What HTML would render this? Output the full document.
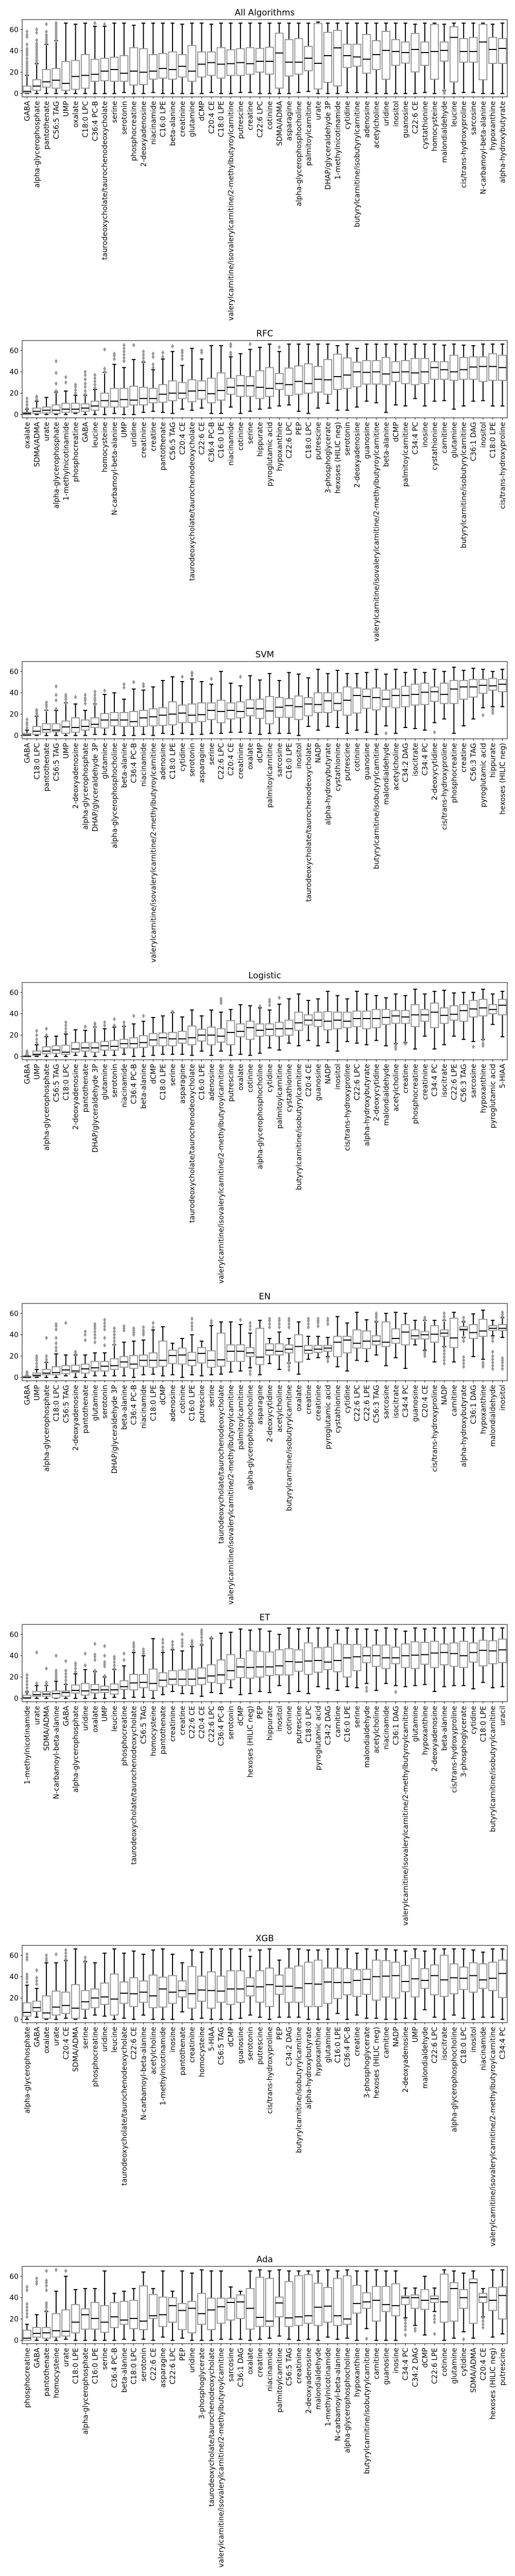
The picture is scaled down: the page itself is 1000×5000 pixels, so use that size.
<!DOCTYPE html>
<html><head><meta charset="utf-8"><title>Feature rank boxplots</title>
<style>
html,body{margin:0;padding:0;background:#fff;}
svg{display:block;font-family:"DejaVu Sans","Liberation Sans",sans-serif;}
</style></head>
<body>
<svg id="chart" width="1000" height="5000" viewBox="0 0 1000 5000" xmlns="http://www.w3.org/2000/svg"></svg>
<script>
const TAU="taurodeoxycholate/taurochenodeoxycholate";
const VAL="valerylcarnitine/isovalerylcarnitine/2-methylbutyroylcarnitine";
const BUT="butyrylcarnitine/isobutyrylcarnitine";
const yTicks=[0,20,40,60];
const titles=["All Algorithms","RFC","SVM","Logistic","EN","ET","XGB","Ada"];

const allNames=["GABA","alpha-glycerophosphate","pantothenate","C56:5 TAG","UMP","oxalate","C18:0 LPC","C36:4 PC-B",TAU,"serine","serotonin","phosphocreatine","2-deoxyadenosine","niacinamide","C16:0 LPE","beta-alanine","creatinine","glutamine","dCMP","C20:4 CE","C18:0 LPE",VAL,"putrescine","creatine","C22:6 LPC","cotinine","SDMA/ADMA","asparagine","alpha-glycerophosphocholine","palmitoylcarnitine","urate","DHAP/glyceraldehyde 3P","1-methylnicotinamide","cytidine",BUT,"adenosine","acetylcholine","uridine","inositol","guanosine","C22:6 CE","cystathionine","homocysteine","malondialdehyde","leucine","cis/trans-hydroxyproline","sarcosine","N-carbamoyl-beta-alanine","hypoxanthine","alpha-hydroxybutyrate"];
const allStats=[[0,0.5,2,7,17],[0,3,7,13,28],[0,6,11,22.5,46],[0,5,12.5,23.5,49.5],[0,3,9.5,30,66],[0,4,16,31,65],[0,5,17,36.5,66],[0,11.5,18,32,63],[0,12,21,33,63],[0,11.5,22.5,34,66],[1,11.5,19,35.5,66],[0,8,21,43,64],[0,8.5,20,42,66],[1,13.5,21,36.5,66],[0,14.5,23.5,37.5,66],[0,13.5,22.5,39,66],[0,15.5,25.5,36.5,65],[0,11.5,21,45,66],[0,15.5,27.5,39,66],[1,17,29,39,65],[0,14.5,27.5,43,66],[0,17,28,41,66],[1,17,29,42,66],[1,18,28,43,66],[0,20.1,30.2,42.3,66],[0,18.2,30.2,43.4,66],[0,5.1,38,56.5,66],[0,16.4,29.4,50.5,66],[1,18.2,29.4,51.5,66],[2,21.4,33.1,44.2,66],[0,4.3,28.3,65.6,67],[0,10.5,35.5,57.3,66],[0,7.2,42.8,59.2,66],[1,24.4,35.5,46.2,66],[1,25.6,34.3,46.2,66],[1,19.1,32.2,55.3,66],[0,22.5,36.5,49.5,66],[0,13.4,40.4,58.2,66],[0,26.4,39.4,50.5,66],[0,28.5,38.4,48.3,66],[0,20.3,41.3,56.3,65],[1,26.4,38.4,48.3,66],[0,13.4,39.4,64.7,66],[3,30.4,40.4,48.3,65],[0,10.9,52.6,62.6,66],[1,29.4,39.4,51.5,66],[1,29.4,39.4,52.6,66],[0,12.9,48.3,64.7,66],[0,28.3,41.3,52.6,65],[0,28.3,42.3,51.5,66]];
const allOut={0:[18,20,22,24,26,28,30,33,36,38,40,42,46,53,55,58],1:[29,31,33,35,37,39,41,43,45,47,50,57,60],2:[47,49,51,53,55,58,65],3:[50,52,54,56,58,60,62,64,66],7:[66],8:[65],43:[0.5,1.5,2.5]};

const rfcNames=["oxalate","SDMA/ADMA","urate","alpha-glycerophosphate","1-methylnicotinamide","phosphocreatine","GABA","leucine","homocysteine","N-carbamoyl-beta-alanine","UMP","uridine","creatinine","creatine","pantothenate","C56:5 TAG","C20:4 CE",TAU,"C22:6 CE","C36:4 PC-B","C16:0 LPE","niacinamide","cotinine","serine","hippurate","pyroglutamic acid","hypoxanthine","C22:6 LPC","PEP","C18:0 LPC","putrescine","3-phosphoglycerate","hexoses (HILIC neg)","serotonin","2-deoxyadenosine","guanosine",VAL,"beta-alanine","dCMP","palmitoylcarnitine","C34:4 PC","inosine","cystathionine","carnitine","glutamine",BUT,"C36:1 DAG","inositol","C18:0 LPE","cis/trans-hydroxyproline"];
const rfcStats=[[0,0,1,2,5],[0,1,3,6,12.5],[0,1.5,4,7,16],[0,1,4,9,21],[0,2,5,10.5,22],[1,2,5,10.5,18],[0,3,6,10,18],[0,4,8,12.5,23.5],[0,7,13,20,39.5],[1,7,12.5,24.5,47],[0,7,14,24.5,44],[0,9,13.5,26.5,51.5],[2,9,15,25.5,49],[3,11,15,24.5,42],[2,11.5,19,28,52],[1,13,20,31.5,59],[5,15,20,30,46],[4,12,22,32.5,62],[6,14.5,22.5,31.5,52],[1,11,19.5,34,64.5],[1,13.5,22.5,39,64.5],[7,19,25.5,34,54],[1,17,27,36.5,57],[3,17,27,35.5,61],[5,15,25.5,41,63],[6,17,24.5,44,66],[8,23.5,29,38.5,59],[9,18,28,43.5,66],[3,19,31,45.5,66],[1,20,29,47.5,66],[6,21,33,45,66],[10.5,19,32.5,51.5,66],[4,23.5,35.5,56.5,64.5],[4,24.5,37,53,66],[7,26,40,49,62],[12.5,28.5,39.5,50.5,66],[11,28.5,40,50.5,66],[2,28,38,53.5,66],[9,31,39.5,49.5,66],[8,29,40,50.5,66],[15,28,39,52.5,66],[8,29,40,52.5,66],[12.5,33,44,49.5,66],[13,33,42,49.5,65],[5,32,40,55.5,66],[8,33,42,53.5,65],[12.5,33,44.5,54,64.5],[13,31,45,54,66],[8,32,45,57,66],[8,32,44,55.5,66]];
const rfcOut={0:[6,9,12,15],1:[14,16,17],3:[22,29,39,50],4:[30,35],5:[20,23,26,28],6:[19,22,26,29,33,37,40],7:[25,28,31,34,37],8:[40,43,61],9:[52,55,57],10:[50,53,56,59,62,65],11:[65],12:[50,53,56,59],13:[44,47,54,57],14:[54,58],15:[64],16:[52,55,58,60],18:[58,60],21:[56,58,64,66],23:[66],26:[63]};

const svmNames=["GABA","C18:0 LPC","pantothenate","C56:5 TAG","UMP","2-deoxyadenosine","alpha-glycerophosphate","DHAP/glyceraldehyde 3P","glutamine","alpha-glycerophosphocholine","beta-alanine","C36:4 PC-B","niacinamide",VAL,"adenosine","C18:0 LPE","cytidine","serotonin","asparagine","serine","C22:6 LPC","C20:4 CE","creatinine","oxalate","dCMP","palmitoylcarnitine","sarcosine","C16:0 LPE","inositol",TAU,"NADP","alpha-hydroxybutyrate","cystathionine","putrescine","cotinine","guanosine",BUT,"malondialdehyde","acetylcholine","C34:2 DAG","isocitrate","C34:4 PC","2-deoxycytidine","cis/trans-hydroxyproline","phosphocreatine","creatine","C56:3 TAG","pyroglutamic acid","hippurate","hexoses (HILIC neg)"];
const svmStats=[[0,0,0.5,2,5],[0,1,4,8.5,18],[0,3,5.5,11,23.5],[0,3.5,5,11,23.5],[0,2,8,13.5,30.5],[0,3,7.5,16.5,29.5],[0,5,8.5,14.5,23.5],[1,7.5,10.5,16.5,29.5],[1,7,14.5,20.5,38.5],[1,9,14.5,21.5,40],[0,8.5,14.5,21.5,34],[0,8.5,13,22.5,43.5],[1,8.5,16.5,23.5,42.5],[0,9,17.5,25,45.5],[2,9.5,19,26,51.5],[1,10,20,31.5,55],[2,12,21,28.5,50.5],[1,12,19,29.5,53],[1,13,19.5,30.5,50.5],[2,15,23.5,30.5,48],[2,12,22.5,33,60],[3,15.5,23.5,30.5,49],[3,16.5,22.5,31.5,46.5],[2,18.5,25.5,33.5,56],[1,16,25,34,52],[2,11,23,36.5,58],[2,17,26.5,35.5,51.5],[2,17,28,34.5,59],[0,15,27,37,57.5],[8.5,18.5,29.5,35.5,54],[5,21.5,29,40,62],[8.5,21.5,32.5,40,58],[7.5,23.5,30,40,61],[2,19,33,45.5,58],[5,21,37.5,44.5,58],[3,25.5,36.5,43.5,59],[1,24,35.5,44.5,62],[9,27,34,42.5,57.5],[2,26,37.5,43.5,62],[7.5,27,37.5,46,59],[6.5,28.5,38.5,48,62],[5,29,40.5,49,59],[12,32,41,45.5,62],[15.5,30,38.5,49,60],[2,30,43.5,51.5,64],[9,34,45.5,51.5,61],[15.5,36,45.5,52.5,63],[26,39.5,47,52.5,62],[27,42.5,46.5,53.5,60],[27,41,48,52.5,62]];
const svmOut={0:[7,10,12,15],1:[19,21,23,24],2:[24,27,29,31],3:[25,33,38,46],4:[31,34,36,38],5:[36],6:[30,33,35,38],7:[30,33,35,38,41],8:[42],10:[45,48],11:[50],12:[46,48],16:[55],17:[56,58,59],19:[53],22:[55],37:[2],42:[3],47:[19],48:[21,23,25]};

const logNames=["GABA","UMP","alpha-glycerophosphate","C56:5 TAG","C18:0 LPC","2-deoxyadenosine","pantothenate","DHAP/glyceraldehyde 3P","glutamine","serotonin","niacinamide","C36:4 PC-B","beta-alanine","dCMP","C18:0 LPE","serine","asparagine",TAU,"C16:0 LPE","adenosine",VAL,"putrescine","oxalate","cotinine","alpha-glycerophosphocholine","cytidine","palmitoylcarnitine","cystathionine",BUT,"C20:4 CE","guanosine","NADP","inositol","cis/trans-hydroxyproline","C22:6 LPC","alpha-hydroxybutyrate","2-deoxycytidine","malondialdehyde","acetylcholine","creatine","phosphocreatine","creatinine","C34:4 PC","isocitrate","C22:6 LPE","C56:3 TAG","sarcosine","hypoxanthine","pyroglutamic acid","5-HIAA"];
const logStats=[[0,0,0,0.5,1],[0,1,2,5,11],[0,2.5,5,9,18.5],[0,3,6,10,19],[0,2,4,10.5,21],[1,4,7,13,25],[0,5,8,13,24.5],[0,4,8,13,27.5],[1,6,10,14,26],[1,6,9.5,15,27.5],[2,8,12,16,28],[0,8,12,17.5,30.5],[0,8.5,13,19.5,33],[1,10,15.5,21.5,36.5],[2,10,17.5,22,38],[2,10,16.5,22.5,41],[2,12.5,16.5,23.5,37],[1,11,17.5,28.5,43.5],[5,14.5,20,25.5,38],[1,11,20,27.5,43.5],[5,13.5,19,26,41.5],[1,11,22.5,33.5,44],[2,18.5,23.5,30.5,48.5],[1,16,27,33,47.5],[3,19,24.5,30.5,45.5],[8,19.5,25.5,30.5,43.5],[6,19,26,32,49],[12.5,20,26,34,54],[10,24.5,31.5,41.5,58.5],[15,29.5,34,39,52.5],[10,28,34,41.5,54],[13,25,33,42,61],[5,26,34,41.5,57],[14,27,33,41.5,54],[12.5,28,35.5,42.5,61],[11,26,35.5,42.5,58.5],[15,27,35.5,44,57],[10,30,36.5,44,55],[12,31,38,43,58.5],[13,31,37,43,57],[7,28,39,48.5,63],[19,33,39,44,58.5],[7,27,41.5,50,61],[11,31,38.5,45.5,62],[19,34,39.5,47.5,59.5],[16,33,43,48.5,60],[14,37,44.5,52.5,60],[16,38,45.5,53.5,63],[30,40,44,48.5,58.5],[18.5,39,48,53.5,61]];
const logOut={0:[2,3,4,5],1:[13,16,20,24],2:[20,26],4:[23,26,29,32],6:[28],7:[28,30,31],8:[29,32],9:[29,35],10:[29,32],11:[38],12:[38],15:[42],20:[50,52,54],24:[47],25:[48,51,53],26:[55],38:[7,9,11],39:[12],46:[9],47:[10,12,15]};

const enNames=["GABA","UMP","alpha-glycerophosphate","C18:0 LPC","C56:5 TAG","2-deoxyadenosine","pantothenate","glutamine","serotonin","DHAP/glyceraldehyde 3P","beta-alanine","C36:4 PC-B","niacinamide","C18:0 LPE","dCMP","adenosine","cotinine","C16:0 LPE","putrescine","serine",TAU,VAL,"palmitoylcarnitine","alpha-glycerophosphocholine","asparagine","2-deoxycytidine","acetylcholine",BUT,"oxalate","creatine","creatinine","pyroglutamic acid","cystathionine","cytidine","C22:6 LPC","C22:6 LPE","C56:3 TAG","sarcosine","isocitrate","C34:4 PC","guanosine","C20:4 CE","cis/trans-hydroxyproline","NADP","carnitine","alpha-hydroxybutyrate","C36:1 DAG","hypoxanthine","malondialdehyde","inositol"];
const enStats=[[0,0,0,1,1.5],[0,1,2,4,7.5],[0,2.5,4,7.5,14],[0,2.5,4.5,10,22],[1.5,3.5,7,11,21],[0,4.5,6,11.5,21],[0,4,8,12.5,21],[1.5,6,9,15,23],[1.5,6,10.5,15,23],[1.5,7.5,11,17.5,30.5],[1.5,9.5,14.5,19.5,33],[0,8.5,12.5,20.5,34],[2.5,10.5,16,21,35],[3,9.5,16,23,44.5],[1.5,10.5,16,34,47.5],[2.5,13,20.5,25.5,32],[0,12.5,21,27.5,36.5],[2.5,11,16,23.5,40],[1.5,13.5,22.5,28,34],[2.5,9.5,16,25,48.5],[3,10.5,16.5,41.5,52],[5,15,24.5,30.5,52],[6,15,24.5,30.5,49.5],[9,19.5,23,28,41.5],[2.5,12,19,46,53.5],[13,21,25.5,31.5,36.5],[7.5,21,24.5,31.5,42.5],[13.5,23,26.5,30.5,36.5],[3,14.5,29,40,52],[17,22.5,25.5,30,38.5],[18.5,23.5,26.5,30,38.5],[19.5,24.5,27.5,30,37.5],[10,19.5,33,38.5,57],[6,23,35,38.5,51],[16,27.5,32,44.5,61],[15,27,34,43.5,54],[21,30.5,34,39,52],[11,29,33,52,60],[18.5,32,36.5,45.5,61],[8.5,30.5,42.5,49.5,60],[30.5,36,39,44.5,53.5],[25.5,36,40,43,53.5],[14.5,33,40.5,48.5,53.5],[29,38.5,41.5,44.5,53.5],[14.5,28,37,55.5,61],[37.5,44,45,47.5,52],[19.5,36.5,42,49.5,59.5],[17,38.5,43.5,54.5,63],[39,44,46,48.5,53.5],[37.5,44,46,49.5,56]];
const enOut={0:[2,3,4,5],1:[10,13,16,18,20],2:[15,17,20,37],3:[25,28,32,37,45,48,50],4:[51],5:[22,24],6:[35,40,43],7:[33,37,40,43,46,48,50],8:[30,37,45,48,51,54],9:[31,34,37,40,43,46],10:[44,46,48],11:[40,42,44,46],12:[40,42,44,47],13:[47,51],17:[45,48,51,55],19:[51,53],22:[54],23:[3,6,45,48,51],25:[47,50,53,55],26:[47,50,53,55],27:[7,10,13,47,50,53,55],29:[47,50,53,55],30:[48,51,53,55],31:[15,18,50,53,55],36:[53,56,58,60],41:[20,22,24,54,56],43:[13,16,19,22,25,28,54,57,60],45:[10,13,16,19,34,37,53,56],47:[10,12,14],48:[8,11,14,17,20,24,34,37],49:[8,11,14,16,18,57,59,61]};

const etNames=["1-methylnicotinamide","urate","SDMA/ADMA","N-carbamoyl-beta-alanine","GABA","alpha-glycerophosphate","uridine","oxalate","UMP","leucine","phosphocreatine",TAU,"C56:5 TAG","homocysteine","pantothenate","creatinine","creatine","C22:6 CE","C20:4 CE","C22:6 LPC","C36:4 PC-B","serotonin","dCMP","hexoses (HILIC neg)","PEP","hippurate","inositol","cotinine","putrescine","C18:0 LPC","pyroglutamic acid","C34:2 DAG","carnitine","C16:0 LPE","serine","malondialdehyde","acetylcholine","niacinamide","C36:1 DAG",VAL,"glutamine","hypoxanthine","2-deoxyadenosine","beta-alanine","cis/trans-hydroxyproline","3-phosphoglycerate","cytidine","C18:0 LPE",BUT,"uracil"];
const etStats=[[0,0,0.5,3,6],[0,2,3.5,6.5,12],[0,2,4,6.5,12],[0,0.5,4.5,7,16],[0,2,5.5,7,13],[0,5,7.5,12.5,23],[0,3,7,14,27],[0,5,8,13,25],[0,5.5,8,11.5,20],[1,4,8,13.5,27],[0,8.5,11,16.5,30.5],[1,8,14.5,22.5,43],[1,10,15,22.5,40],[0,7.5,14,27.5,56],[3.5,11,17,24,43],[6.5,13,18,26,45.5],[4.5,12,18,26.5,44.5],[4.5,12,18,27.5,48.5],[2,13,19,28.5,50],[5.5,15,21,31.5,56],[4.5,14,22,36,61],[10,17.5,26,41,62],[3.5,19.5,29.5,37.5,65],[4.5,19,29,44.5,64],[6.5,20,29.5,44,65],[5.5,21.5,29.5,43.5,63],[12,22,30.5,45.5,60],[4.5,22,34.5,46.5,66],[6.5,25.5,34,45.5,65],[4.5,22.5,35,52,66],[11,24.5,35.5,47.5,66],[9,27,34,48,66],[7.5,25,35.5,51,64],[11,20,38,50.5,66],[10,26,39,50.5,65],[14,33.5,40,48,65],[7.5,30,40,50,64],[14,28,38,50,66],[12,32.5,38,48,65],[11,29,40,51,63],[12,28,40.5,53,66],[13,32,41,52.5,65],[6.5,29,42.5,53.5,66],[11,31.5,43,51,66],[12,30,42,52,66],[12,29,40,53.5,66],[9,34,43,52,66],[15,30.5,45,54.5,66],[10,32.5,44.5,54,66],[11,33.5,45.5,55.5,66]];
const etOut={0:[7,10,13,16,19,22],1:[14,43],2:[13,15,28],3:[18,20,22,24,26,40],4:[14,17,20,23,26,35],5:[25,28,31,33],6:[31,42],7:[26,36,39,41,51],8:[21,30,32,34,40,49],9:[28,31,34,37,39],10:[36,42],11:[45,48,50,52],12:[42,44,46],14:[45,48,52,55],15:[47,50,53],16:[49,52,55,60],17:[50,52,54],18:[51,54,57,60,62,64],19:[57],35:[7,10],38:[6]};

const xgbNames=["alpha-glycerophosphate","GABA","oxalate","urate","C20:4 CE","SDMA/ADMA","serine","phosphocreatine","uridine","leucine",TAU,"C22:6 CE","N-carbamoyl-beta-alanine","acetylcholine","1-methylnicotinamide","inosine","pantothenate","creatinine","homocysteine","5-HIAA","C56:5 TAG","dCMP","guanosine","serotonin","putrescine","cis/trans-hydroxyproline","PEP","C34:2 DAG",BUT,"alpha-hydroxybutyrate","hypoxanthine","glutamine","C16:0 LPE","C36:4 PC-B","creatine","3-phosphoglycerate","hexoses (HILIC neg)","carnitine","NADP","2-deoxyadenosine","UMP","malondialdehyde","C22:6 LPC","isocitrate","alpha-glycerophosphocholine","C18:0 LPC","inositol","niacinamide",VAL,"C34:4 PC"];
const xgbStats=[[0,3,6.5,15.5,32],[2,7.5,11,17,29],[0,1,6,22,53],[0,4,11.5,26.5,53],[1,5.5,13,25.5,55],[0,1,10.5,32.5,66],[1,9.5,16.5,27,54],[4,11,20,28.5,53],[3,14,21,34,62],[0,4,19,42.5,66],[1,15,24.5,35,62],[0,12,24,39,64],[4,16,25.5,36,61],[0,11,22,41.5,65],[0,11.5,28.5,39.5,66],[0,15,25.5,41,61],[7,21,27,36,53],[0,10.5,24,49.5,65],[1,17,27.5,40.5,63],[0,10.5,27,44.5,66],[0,16,26.5,40.5,66],[0,14,28.5,45.5,66],[1,16,28.5,45.5,66],[4,22,31,39,59],[2,16,30.5,45.5,65],[0,12,32.5,48,66],[2,23.5,31,41.5,55.5],[2,16,31,48,66],[2,16,29.5,50,66],[0,12,33.5,53.5,65],[0,12,33,55.5,65],[0,15,35,48,66],[5.5,19.5,34.5,48,66],[0,23,34.5,47.5,66],[4,21.5,36.5,46.5,62],[1,23.5,37.5,47,66],[1,18,40,55.5,65],[0,21,40.5,55,66],[0,20,41,53.5,65],[1,26,35.5,50.5,64],[0,21,38,57,66],[9,29,36.5,47.5,64],[2,23,41,51,66],[0,21.5,37,60,66],[4,24,39,52,66],[1,28,38.5,49,66],[0,25.5,41,53,65],[2,29,37,52,63],[2,27,38.5,53.5,66],[0,20.5,43,55.5,66]];
const xgbOut={0:[35,38,40,42,56,58,61],1:[33,36,39,46],2:[55,57,60],3:[61],4:[56,59,62,65],6:[55,58],23:[65]};

const adaNames=["phosphocreatine","GABA","pantothenate","homocysteine","urate","C18:0 LPE","alpha-glycerophosphate","C16:0 LPE","serine","C36:4 PC-B","beta-alanine","C18:0 LPC","serotonin","C22:6 CE","asparagine","C22:6 LPC","PEP","uridine","3-phosphoglycerate",TAU,VAL,"sarcosine","C36:1 DAG","oxalate","creatine","niacinamide","palmitoylcarnitine","C56:5 TAG","creatinine","2-deoxyadenosine","malondialdehyde","1-methylnicotinamide","N-carbamoyl-beta-alanine","alpha-glycerophosphocholine","hypoxanthine",BUT,"carnitine","guanosine","inosine","C34:4 PC","C34:2 DAG","dCMP","C22:6 LPE","cotinine","glutamine","cytidine","SDMA/ADMA","C20:4 CE","hexoses (HILIC neg)","putrescine"];
const adaStats=[[0,0,2,9.5,15],[0,3,6.5,12,24],[0,2,7,12,27],[0,3,9,25,46],[1,4,8.5,28.5,60],[0,7,17,33.5,47.5],[0,10.5,24,29.5,48.5],[0,10.5,20.5,35.5,48.5],[0,7.5,17,32.5,65],[0,12,22,35.5,44],[1,15,19,36.5,46],[0,11,20.5,37.5,48.5],[1,10,18,51,64],[0,20.5,23,43,48.5],[3,13,24,40.5,65],[0,17,32.5,40,46],[2,10,28,34.5,65],[0,7,30,36.5,63],[0,15,25,44,66],[0,10,28.5,39.5,65],[1,16,31.5,39.5,65],[1,19,35.5,39.5,50],[1,20.5,36,42.5,46],[0,10.5,30,48.5,65],[1,13,21.5,59,66],[2,13,18,58,65],[4,22,35,40.5,66],[1,13,21,55,65],[0,14,22,60.5,65],[1,16,23,61.5,65],[0,14,31,53.5,65],[3,17,32,49.5,66],[1,14,23,58,65],[2,15,20,60.5,66],[0,25.5,34.5,51.5,65],[11,30,36,44.5,65],[0,18,37.5,50.5,66],[0,27,33.5,50.5,65],[0,23,32.5,53,65],[21,33.5,40,41.5,49],[14,30,40,42.5,49],[5,29,37.5,47.5,60],[27,35.5,39,41.5,49],[0,17,36,62,66],[2,18,48.5,54,65],[8,30,40,47.5,63],[2,16,54,57.5,65],[22,35.5,40.5,44,48.5],[3,28,37.5,49.5,66],[6,20,42,50,66]];
const adaOut={0:[22,25,28,31,34,47,50],1:[53,55,58],2:[28,31,33,35,47,51,54,56,65],3:[66],4:[65],35:[1.5],39:[5,10,13,16,19],40:[9,11],42:[6,17,20,23],45:[1],47:[12,15,18,21]};

const panelNames=[allNames,rfcNames,svmNames,logNames,enNames,etNames,xgbNames,adaNames];
const panelStats=[allStats,rfcStats,svmStats,logStats,enStats,etStats,xgbStats,adaStats];
const panelOut=[allOut,rfcOut,svmOut,logOut,enOut,etOut,xgbOut,adaOut];

const NS="http://www.w3.org/2000/svg";
const svg=document.getElementById('chart');
const AX_L=43, AX_R=985, AX_H=150, TOP0=38, STEP=623;
const Y_MIN=-3.1, Y_MAX=69.3;
const FS=13.9;
const CW={a:613,b:635,c:550,d:635,e:615,f:352,g:635,h:634,i:278,j:278,k:579,l:278,m:974,n:634,o:612,p:635,q:635,r:411,s:521,t:392,u:634,v:592,w:818,x:592,y:592,z:525,A:684,B:686,C:698,D:770,E:632,F:575,G:775,H:752,I:295,J:295,K:656,L:557,M:863,N:748,O:787,P:603,Q:787,R:695,S:635,T:611,U:732,V:684,W:989,X:685,Y:611,Z:685,' ':318,'-':361,':':337,'/':337,'(':390,')':390,'.':318};
function textW(s,fs){let w=0;for(const ch of s){w+=(CW[ch]!==undefined?CW[ch]:(/[0-9]/.test(ch)?636:600));}return w/1000*fs;}
function mk(tag,attrs,parent){const e=document.createElementNS(NS,tag);for(const k in attrs)e.setAttribute(k,attrs[k]);parent.appendChild(e);return e;}

panelStats.forEach((stats,p)=>{
  const top=TOP0+STEP*p, bottom=top+AX_H;
  const names=panelNames[p], outs=panelOut[p];
  const n=names.length, bw=(AX_R-AX_L)/n;
  const xs=i=>AX_L+bw*(i+0.5);
  const ys=v=>bottom-(v-Y_MIN)/(Y_MAX-Y_MIN)*AX_H;
  const g=mk('g',{},svg);
  
  
  const t=mk('text',{x:(AX_L+AX_R)/2,y:top-8,'text-anchor':'middle','font-size':'16.7',fill:'#000'},g);
  t.textContent=titles[p];
  
  
  yTicks.forEach(v=>{
    const y=ys(v);
    const tk=mk('line',{x1:AX_L-3.5,x2:AX_L,y1:y,y2:y,stroke:'#000','stroke-width':1},g);
    
    
    const tl=mk('text',{x:AX_L-7,y:y+5,'text-anchor':'end','font-size':FS,fill:'#000'},g);
    tl.textContent=v;
    
    
  });
  stats.forEach((s,i)=>{
    const [lo,q1,med,q3,hi]=s;
    const cx=xs(i), w=bw*0.8;
    const bg=mk('g',{},g);
    
    
    mk('line',{x1:cx,x2:cx,y1:ys(q3),y2:ys(hi),stroke:'#000','stroke-width':2},bg);
    mk('line',{x1:cx,x2:cx,y1:ys(q1),y2:ys(lo),stroke:'#000','stroke-width':2},bg);
    mk('line',{x1:cx-w/4,x2:cx+w/4,y1:ys(hi),y2:ys(hi),stroke:'#000','stroke-width':2},bg);
    mk('line',{x1:cx-w/4,x2:cx+w/4,y1:ys(lo),y2:ys(lo),stroke:'#000','stroke-width':2},bg);
    mk('rect',{x:cx-w/2,y:ys(q3),width:w,height:Math.max(0.5,ys(q1)-ys(q3)),fill:'#fff',stroke:'#999','stroke-width':2},bg);
    mk('line',{x1:cx-w/2,x2:cx+w/2,y1:ys(med),y2:ys(med),stroke:'#000','stroke-width':2},bg);
    (outs[i]||[]).forEach(v=>{
      const y=ys(v);
      const d=mk('path',{d:`M${cx} ${y-4.5}L${cx+3} ${y}L${cx} ${y+4.5}L${cx-3} ${y}Z`,fill:'#999'},bg);
      
      
    });
    const tk=mk('line',{x1:cx,x2:cx,y1:bottom,y2:bottom+3.5,stroke:'#000','stroke-width':1},g);
    
    
    const lb=mk('text',{transform:`translate(${cx+5},${bottom+8}) rotate(-90)`,'text-anchor':'end','font-size':FS,fill:'#000',textLength:textW(names[i],FS).toFixed(1),lengthAdjust:'spacingAndGlyphs'},g);
    lb.textContent=names[i];
    
    
  });
  const fr=mk('rect',{x:AX_L,y:top,width:AX_R-AX_L,height:AX_H,fill:'none',stroke:'#000','stroke-width':1},g);
  
  
});
</script>
</body></html>
